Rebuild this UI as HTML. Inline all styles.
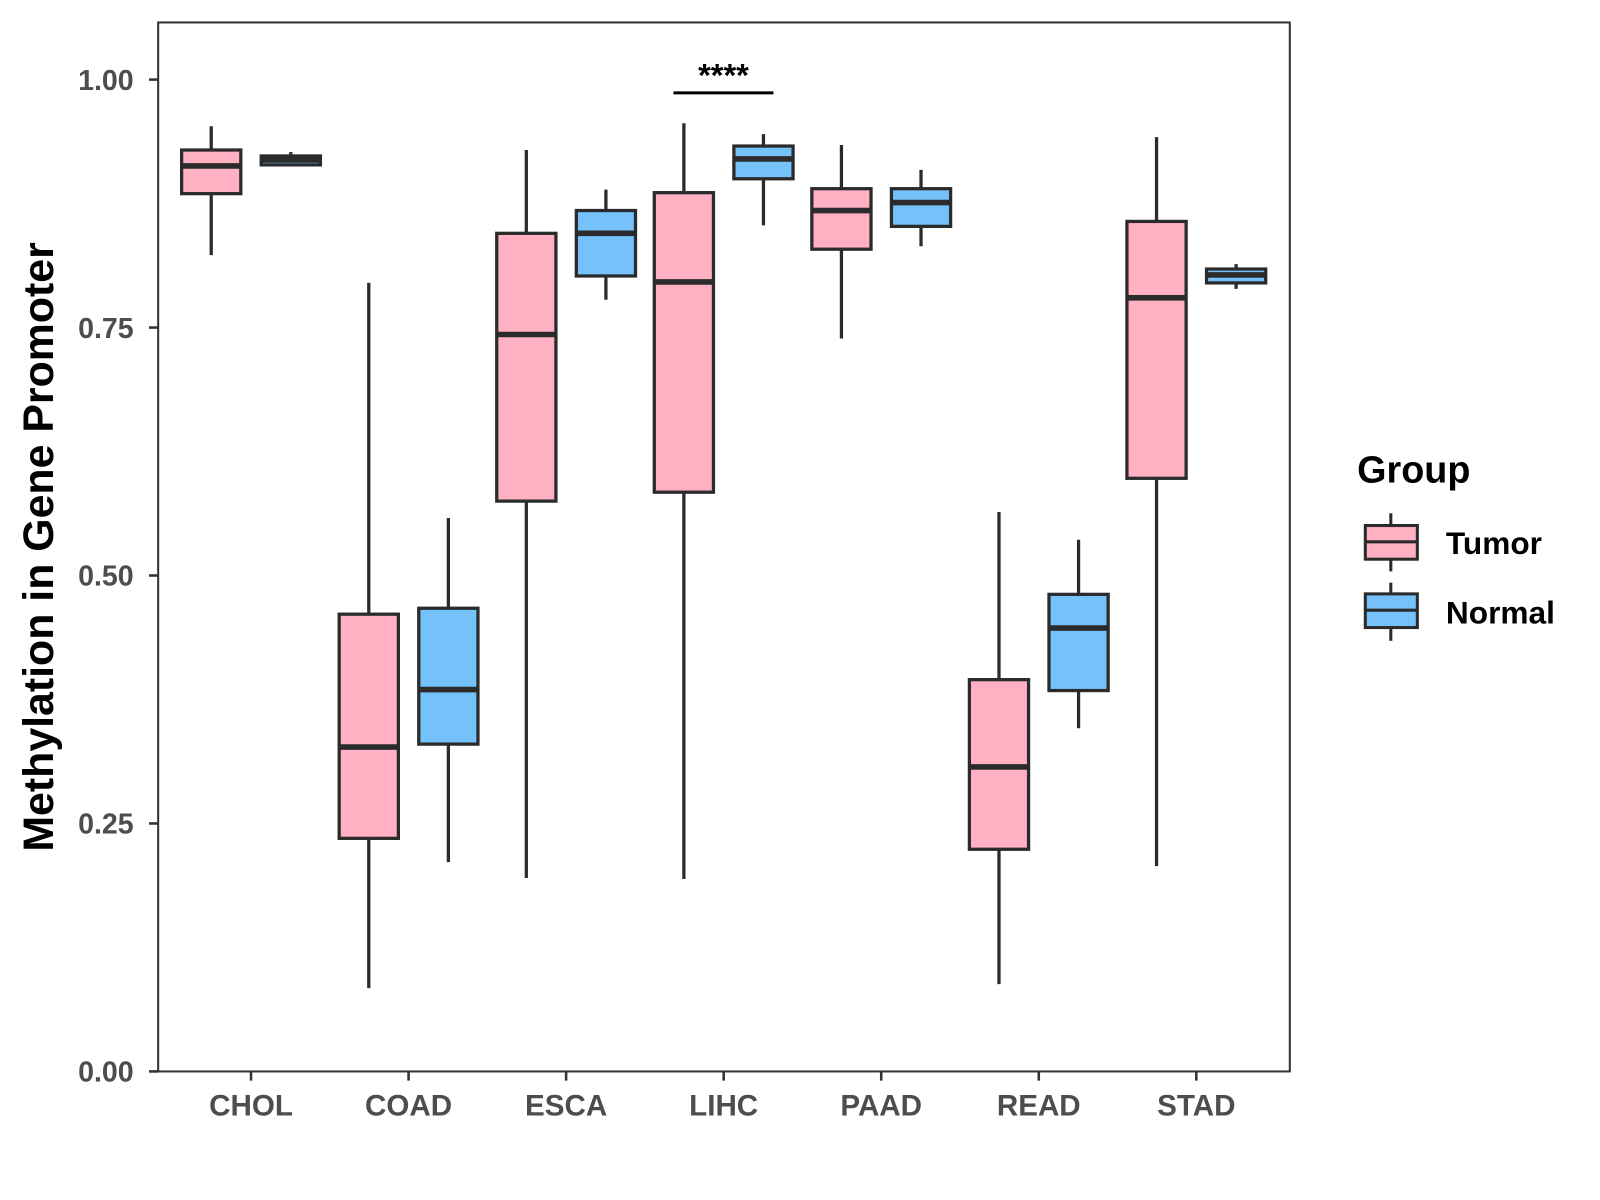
<!DOCTYPE html>
<html><head><meta charset="utf-8"><style>
body{margin:0;background:#fff}
svg{position:absolute;left:0;top:0}
text{font-family:"Liberation Sans",Arial,sans-serif;font-weight:bold}
</style></head><body>
<svg id="chart" width="1600" height="1200" viewBox="0 0 1568 1176" xmlns="http://www.w3.org/2000/svg">
<rect width="1568" height="1176" fill="#fff"/>
<g id="plot"></g>
</svg>
<script>
const categories=["CHOL","COAD","ESCA","LIHC","PAAD","READ","STAD"];
const tumorLow=[0.823,0.084,0.195,0.194,0.739,0.088,0.207];
const tumorQ1=[0.885,0.235,0.575,0.584,0.829,0.224,0.598];
const tumorMed=[0.913,0.327,0.743,0.796,0.868,0.307,0.780];
const tumorQ3=[0.929,0.461,0.845,0.886,0.890,0.395,0.857];
const tumorHigh=[0.953,0.795,0.929,0.956,0.934,0.564,0.942];
const normalLow=[0.913,0.211,0.778,0.853,0.832,0.346,0.789];
const normalQ1=[0.914,0.330,0.802,0.900,0.852,0.384,0.795];
const normalMed=[0.919,0.385,0.845,0.920,0.876,0.447,0.803];
const normalQ3=[0.923,0.467,0.868,0.933,0.890,0.481,0.809];
const normalHigh=[0.927,0.558,0.889,0.945,0.909,0.536,0.814];
const yTicks=[0,0.25,0.5,0.75,1.0];
const yTickLabels=["0.00","0.25","0.50","0.75","1.00"];

const L=155,R=1264,T=22,B=1050;
const y=v=>1050-v*972;
const xc=i=>246+i*154.4;
const NS="http://www.w3.org/2000/svg";
const g=document.getElementById('plot');
function mk(tag,attrs,parent){const e=document.createElementNS(NS,tag);for(const k in attrs)e.setAttribute(k,attrs[k]);(parent||g).appendChild(e);return e;}

yTicks.forEach((v,i)=>{
  const t=mk('line',{x1:L-9,x2:L,y1:y(v),y2:y(v),stroke:'#333','stroke-width':2.5});
  
  
  const tx=mk('text',{x:L-24,y:y(v)+10,'text-anchor':'end','font-size':28,fill:'#4d4d4d'});
  tx.textContent=yTickLabels[i];
  
  
});
categories.forEach((c,i)=>{
  const t=mk('line',{x1:xc(i),x2:xc(i),y1:B,y2:B+9,stroke:'#333','stroke-width':2.5});
  
  
  const tx=mk('text',{x:xc(i),y:B+43,'text-anchor':'middle','font-size':29,fill:'#4d4d4d'});
  tx.textContent=c;
  
  
});

function box(cx,lo,q1,md,q3,hi,fill,name){
  const gg=mk('g',{});
  
  
  mk('line',{x1:cx,x2:cx,y1:y(hi),y2:y(lo),stroke:'#2b2b2b','stroke-width':3.2},gg);
  mk('rect',{x:cx-29,y:y(q3),width:58,height:y(q1)-y(q3),fill:fill,stroke:'#2b2b2b','stroke-width':3.2},gg);
  mk('line',{x1:cx-29,x2:cx+29,y1:y(md),y2:y(md),stroke:'#2b2b2b','stroke-width':5.5},gg);
}
categories.forEach((c,i)=>{
  box(xc(i)-39,tumorLow[i],tumorQ1[i],tumorMed[i],tumorQ3[i],tumorHigh[i],'#FFB0C2','box-tumor-'+c.toLowerCase());
  box(xc(i)+39,normalLow[i],normalQ1[i],normalMed[i],normalQ3[i],normalHigh[i],'#75C1F9','box-normal-'+c.toLowerCase());
});
</script>
<svg width="1600" height="1200" viewBox="0 0 1568 1176" xmlns="http://www.w3.org/2000/svg">
<rect x="155" y="22" width="1109" height="1028" fill="none" stroke="#333" stroke-width="2"/>
<line x1="660" x2="758" y1="91" y2="91" stroke="#000" stroke-width="3"/>
<text x="709" y="85" text-anchor="middle" font-size="32" fill="#000">****</text>
<text transform="translate(52,536) rotate(-90)" text-anchor="middle" font-size="42" fill="#000">Methylation in Gene Promoter</text>
<text x="1330" y="473" font-size="37" fill="#000">Group</text>
<g>
<line x1="1363" x2="1363" y1="503" y2="560" stroke="#2b2b2b" stroke-width="3"/>
<rect x="1338" y="515" width="51" height="33" fill="#FFB0C2" stroke="#2b2b2b" stroke-width="3"/>
<line x1="1338" x2="1389" y1="531" y2="531" stroke="#2b2b2b" stroke-width="3"/>
<text x="1417" y="543" font-size="31" fill="#000">Tumor</text>
</g>
<g>
<line x1="1363" x2="1363" y1="571" y2="628" stroke="#2b2b2b" stroke-width="3"/>
<rect x="1338" y="582" width="51" height="33" fill="#75C1F9" stroke="#2b2b2b" stroke-width="3"/>
<line x1="1338" x2="1389" y1="598" y2="598" stroke="#2b2b2b" stroke-width="3"/>
<text x="1417" y="611" font-size="31" fill="#000">Normal</text>
</g>
</svg>
</body></html>
